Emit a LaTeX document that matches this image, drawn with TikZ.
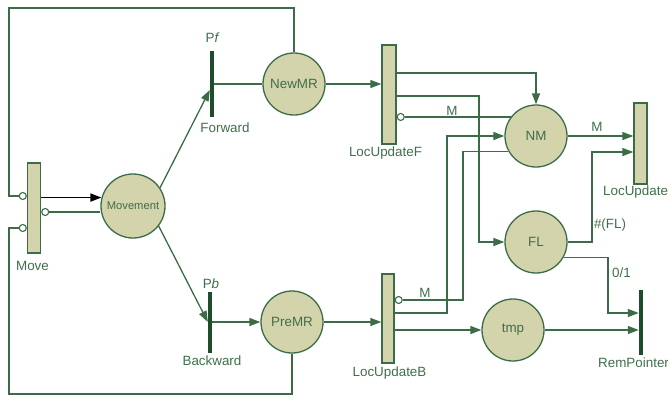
\documentclass[tikz,border=0pt]{standalone}
\usepackage{fontspec}
\setmainfont{Liberation Sans}
\usetikzlibrary{arrows.meta}
\definecolor{lgreen}{HTML}{3B6B47}
\definecolor{pfill}{HTML}{D3D3AC}
\definecolor{barc}{HTML}{1E4D2B}
\definecolor{tgreen}{HTML}{3F6F4B}
\begin{document}
\begin{tikzpicture}[x=1pt,y=-1pt,
 place/.style={circle,draw=lgreen,line width=1.3pt,fill=pfill,minimum size=62pt,inner sep=0pt,text=tgreen,font=\fontsize{13.4}{15}\selectfont},
 trans/.style={rectangle,draw=lgreen,line width=1.3pt,fill=pfill,inner sep=0pt},
 tbar/.style={rectangle,fill=barc,inner sep=0pt,minimum width=4pt},
 arc/.style={draw=lgreen,line width=1.3pt},
 arr/.style={arc,-{Triangle[length=11pt,width=8pt]}},
 inhc/.style={circle,draw=lgreen,fill=white,line width=1.1pt,minimum size=7pt,inner sep=0pt},
 lbl/.style={text=tgreen,font=\fontsize{13.4}{15}\selectfont,inner sep=0pt},
]
\useasboundingbox (0,0) rectangle (668,397);
% nodes
\node[trans,minimum width=13pt,minimum height=90pt] (Move) at (34,208) {};
\node[place,minimum size=64pt,font=\fontsize{11.2}{13}\selectfont] (Movement) at (133,206) {Movement};
\node[tbar,minimum height=66pt] (Fwd) at (212,84) {};
\node[tbar,minimum height=61pt] (Bwd) at (210,322) {};
\node[place] (NewMR) at (294,84) {NewMR};
\node[place] (PreMR) at (292,322) {PreMR};
\node[trans,minimum width=14pt,minimum height=99pt] (LF) at (389,94.5) {};
\node[trans,minimum width=12pt,minimum height=89pt] (LB) at (388,318.5) {};
\node[place] (NM) at (536,136) {NM};
\node[place] (FL) at (536,242) {FL};
\node[place] (tmp) at (513,330) {tmp};
\node[trans,minimum width=13pt,minimum height=81pt] (LU) at (640.5,143.5) {};
\node[tbar,minimum height=65pt] (RP) at (641,322.5) {};
% inhibitor circles
\node[inhc,anchor=east] (iMt) at (Move.west |- 0,196) {};
\node[inhc,anchor=east] (iMb) at (Move.west |- 0,228) {};
\node[inhc,anchor=west] (iMr) at (Move.east |- 0,212) {};
\node[inhc,anchor=west] (iLF) at (LF.east |- NM.143) {};
\node[inhc,anchor=west] (iLB) at (LB.east |- 0,300) {};
% labels
\node[lbl] (lMove) at (32.5,266) {Move};
\node[lbl] (lPf) at (212,38) {P{\itshape f}};
\node[lbl] (lFwd) at (225,128) {Forward};
\node[lbl] (lPb) at (211,284) {P{\itshape b}};
\node[lbl] (lBwd) at (212,361) {Backward};
\node[lbl] (lLF) at (385.5,153) {LocUpdateF};
\node[lbl] (lLB) at (389.5,373) {LocUpdateB};
\node[lbl,anchor=west] (lLU) at (603,192) {LocUpdate};
\node[lbl,anchor=west] (lRP) at (598,363) {RemPointer};
\node[lbl] (m1) at (452,111) {M};
\node[lbl] (m2) at (597,127) {M};
\node[lbl] (m3) at (425,293) {M};
\node[lbl] (lFL) at (610,225) {\#(FL)};
\node[lbl] (l01) at (621.5,273) {0/1};
% connectors
\draw[line width=1.5pt,-{Triangle[length=11pt,width=8pt]}] (Move.east |- Movement.165) -- (Movement.165);
\draw[arc] (Movement.west |- iMr) -- (iMr);
\coordinate (tl) at (9,8);
\coordinate (bl) at (9,394);
\draw[arc] (NewMR.north) |- (tl) |- (iMt);
\draw[arc] (PreMR.south) |- (bl) |- (iMb);
\draw[arr] (Movement.34) -- (Fwd.west |- 0,90);
\draw[arr] (Movement.-38) -- (Bwd.west |- 0,322);
\draw[arc] (Fwd) -- (NewMR);
\draw[arr] (Bwd) -- (PreMR);
\draw[arr] (NewMR) -- (LF.west |- NewMR);
\draw[arr] (PreMR) -- (LB.west |- PreMR);
\draw[arr] (LF.east |- 0,73) -| (NM.north);
\draw[arr] (LF.east |- 0,96) -| (FL.west -| 479,0) -- (FL.west);
\draw[arc] (NM.143) -- (iLF);
\draw[arr] (LB.east |- 0,313) -| (NM.west -| 447,0) -- (NM.west);
\draw[arc] (NM.209) -| (463,300) -- (iLB);
\draw[arr] (LB.east |- tmp) -- (tmp.west);
\draw[arr] (tmp) -- (RP.west |- tmp);
\draw[arr] (NM.east) -- (LU.west |- NM.east);
\draw[arr] (FL.east) -| (592,152) -- (LU.west |- 0,152);
\draw[arr] (FL.-29) -| (608,313) -- (RP.west |- 0,313);
\end{tikzpicture}
\end{document}
